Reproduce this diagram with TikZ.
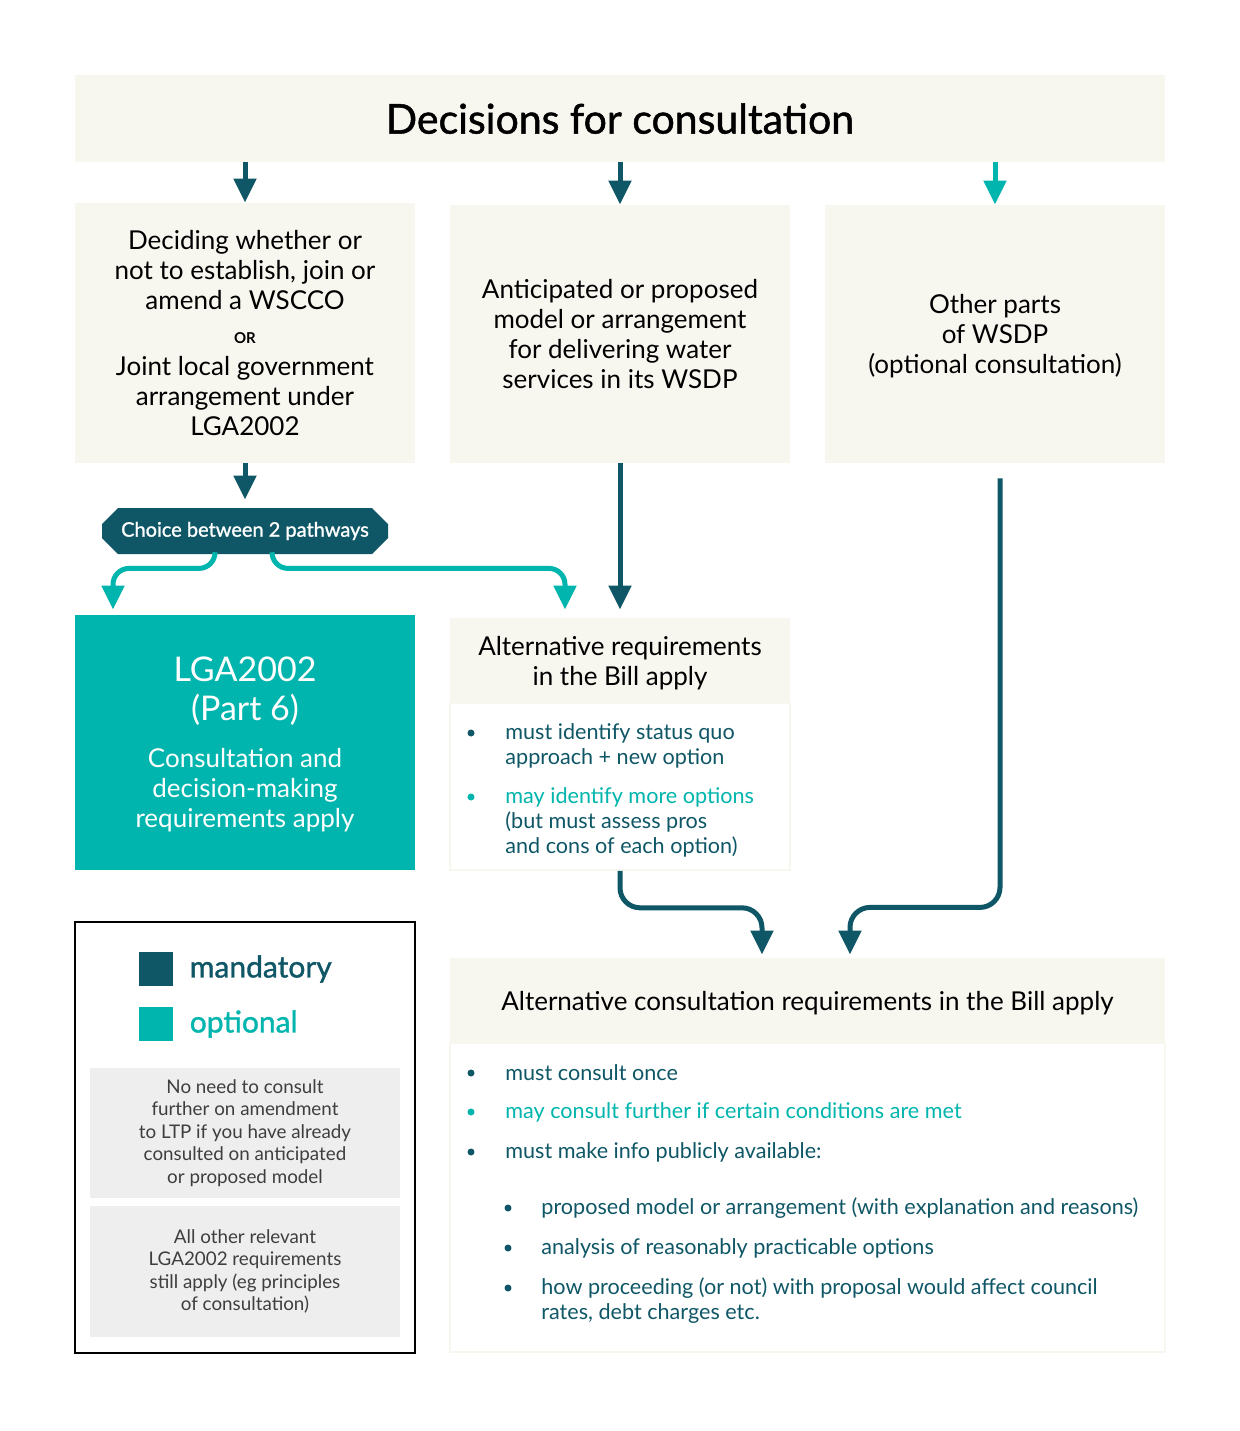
\documentclass[tikz,border=0pt]{standalone}
\usepackage{fontspec}
\setmainfont{Lato}
\newfontfamily\medium[FakeBold=1.2]{Lato}
\usetikzlibrary{arrows.meta,positioning,shapes.misc}
\definecolor{petrol}{RGB}{15,87,102}
\definecolor{aqua}{RGB}{0,181,173}
\definecolor{cream}{RGB}{247,246,239}
\definecolor{paleGrey}{RGB}{238,238,238}
\definecolor{greyText}{RGB}{62,62,62}

\begin{document}
\begin{tikzpicture}[x=0.5pt,y=-0.5pt,
    panel/.style={fill=cream,minimum width=170pt,inner sep=0pt,align=center,
      font=\fontsize{13}{15}\selectfont},
    plain/.style={fill=white,draw=cream,line width=0.8pt,minimum width=170pt,inner sep=0pt},
    item/.style={anchor=west,align=left,inner sep=0pt,text=petrol,
      font=\fontsize{10.8}{12.5}\selectfont},
    dot/.style={circle,fill=petrol,inner sep=0pt,minimum size=3.5pt},
    note/.style={fill=paleGrey,minimum width=155pt,align=center,inner sep=0pt,
      text=greyText,font=\fontsize{9.4}{11.25}\selectfont},
    key/.style={minimum size=17pt,inner sep=0pt},
    keylabel/.style={anchor=west,inner sep=0pt,font=\medium\fontsize{15}{17}\selectfont},
    arrow/.style={-{Triangle[length=12pt,width=11pt]},line width=2.5pt,draw=petrol},
    optarrow/.style={arrow,draw=aqua}
  ]
    \fill[white] (0,0) rectangle (1240,1431);
    \useasboundingbox (0,0) rectangle (1240,1431);

    \node[panel,minimum width=545pt,minimum height=43.5pt,text depth=-5.5pt,
      font=\medium\fontsize{20.5}{24}\selectfont]
      (title) at (620,118.5) {Decisions for consultation};

    \node[panel,minimum height=130pt,text depth=-8pt] (boxa) at (245,333)
      {Deciding whether or\\not to establish, join or\\amend a WSCCO\\[2pt]
       {\fontsize{7.5}{9}\selectfont\bfseries OR}\\[1pt]
       Joint local government\\arrangement under\\LGA2002};
    \node[panel,minimum height=129pt,text depth=-4pt] (boxb) at (620,334)
      {Anticipated or proposed\\model or arrangement\\for delivering water\\services in its WSDP};
    \node[panel,minimum height=129pt,text depth=-3pt] (boxc) at (995,334)
      {Other parts\\of WSDP\\(optional consultation)};

    \draw[arrow] (title.south -| boxa) -- (boxa.north);
    \draw[arrow] (title.south -| boxb) -- (boxb.north);
    \draw[optarrow] (title.south -| boxc) -- (boxc.north);

    \node[chamfered rectangle,chamfered rectangle xsep=4pt,chamfered rectangle ysep=4pt,
      fill=petrol,text=white,minimum width=143pt,minimum height=23pt,inner sep=0pt,
      font=\medium\fontsize{10}{12}\selectfont] (choice) at (245,531) {Choice between 2 pathways};
    \draw[arrow,shorten >=4pt] (boxa.south) -- (choice.north);

    \node[fill=aqua,minimum width=170pt,minimum height=127.5pt,inner sep=0pt,align=center,
      text depth=-4pt,text=white,font=\fontsize{13}{15}\selectfont] (lga) at (245,742.5)
      {\fontsize{17}{20}\selectfont LGA2002\\[4.5pt]\fontsize{17}{20}\selectfont(Part 6)\\[8.5pt]
       Consultation and\\decision-making\\requirements apply};

    \node[panel,minimum height=42.5pt,text depth=-6pt] (alt) at (620,660.5)
      {Alternative requirements\\in the Bill apply};
    \node[plain,minimum height=83.5pt] (altbody) at (620,786.5) {};
    \node[dot] (d1) at (471,733) {};
    \node[item] (i1) at (505,745.5) {must identify status quo\\approach + new option};
    \node[dot,fill=aqua] (d2) at (471,797) {};
    \node[item] (i2) at (505,822)
      {\textcolor{aqua}{may identify more options}\\(but must assess pros\\and cons of each option)};

    \draw[optarrow,rounded corners=8pt,shorten >=2.5pt]
      ([xshift=-15pt]choice.south) -- ++(0,14) -| ([xshift=-66pt]lga.north);
    \draw[optarrow,rounded corners=8pt,shorten >=4pt]
      ([xshift=13.5pt]choice.south) -- ++(0,14) -| ([xshift=-27.5pt]alt.north);
    \draw[arrow,shorten >=4pt] (boxb.south) -- (alt.north);

    \node[panel,minimum width=357.5pt,minimum height=42.5pt,text depth=-7pt] (consult) at (807.5,1000.5)
      {Alternative consultation requirements in the Bill apply};
    \node[plain,minimum width=357.5pt,minimum height=154.5pt] (consultbody) at (807.5,1197.5) {};
    \node[dot] (e1) at (471,1073) {};
    \node[item] (j1) at (505,1073) {must consult once};
    \node[dot,fill=aqua] (e2) at (471,1112) {};
    \node[item,text=aqua] (j2) at (505,1112) {may consult further if certain conditions are met};
    \node[dot] (e3) at (471,1152) {};
    \node[item] (j3) at (505,1152) {must make info publicly available:};
    \node[dot] (e4) at (508,1208) {};
    \node[item] (j4) at (541,1208) {proposed model or arrangement (with explanation and reasons)};
    \node[dot] (e5) at (508,1248) {};
    \node[item] (j5) at (541,1248) {analysis of reasonably practicable options};
    \node[dot] (e6) at (508,1288) {};
    \node[item] (j6) at (541,1300.5)
      {how proceeding (or not) with proposal would affect council\\rates, debt charges etc.};

    \draw[arrow,rounded corners=10pt,shorten >=1.5pt]
      (altbody.south) -- ++(0,37) -| ([xshift=-22.75pt]consult.north);
    \draw[arrow,rounded corners=10pt,shorten >=1.5pt]
      ([xshift=2.5pt,yshift=-7.5pt]boxc.south) -- ++(0,429) -| ([xshift=21.25pt]consult.north);

    \node[draw=black,line width=1pt,minimum width=170pt,minimum height=215.5pt,inner sep=0pt]
      (legend) at (245,1137.5) {};
    \node[key,fill=petrol] (keyman) at (156,969) {};
    \node[keylabel,text=petrol,right=8pt of keyman] (labman) {mandatory};
    \node[key,fill=aqua] (keyopt) at (156,1024) {};
    \node[keylabel,text=aqua,right=8pt of keyopt] (labopt) {optional};
    \node[note,minimum height=65pt] (note1) at (245,1133)
      {No need to consult\\further on amendment\\to LTP if you have already\\consulted on anticipated\\or proposed model};
    \node[note,minimum height=65.5pt] (note2) at (245,1271.5)
      {All other relevant\\LGA2002 requirements\\still apply (eg principles\\of consultation)};
  \end{tikzpicture}
\end{document}
